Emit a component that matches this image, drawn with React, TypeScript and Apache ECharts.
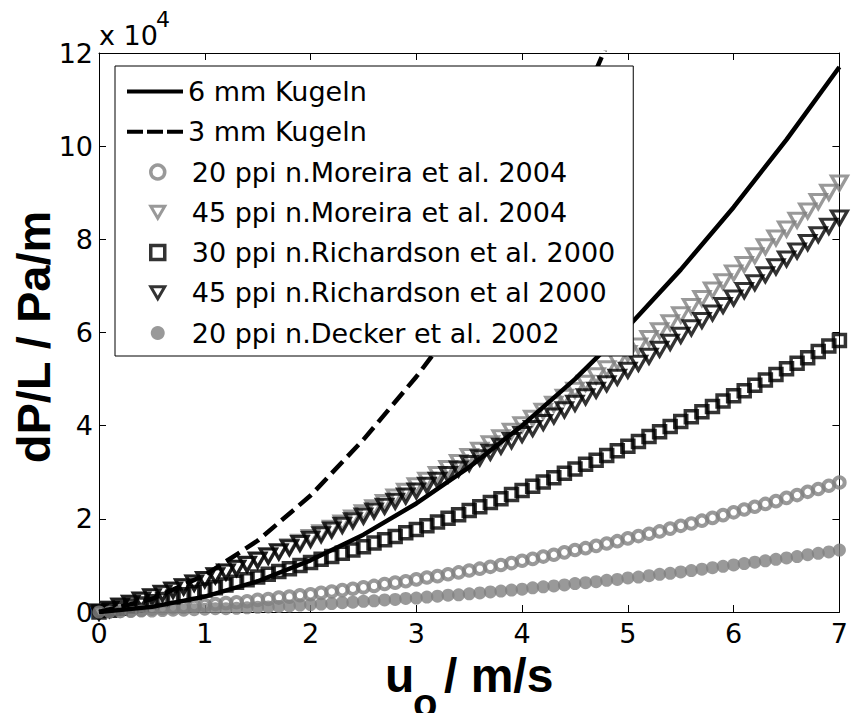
import React, { useEffect, useRef } from 'react';
import * as echarts from 'echarts';

// Values in units of 10^4 Pa/m
const u = [
  0, 0.1, 0.2, 0.3, 0.4, 0.5, 0.6, 0.7, 0.8, 0.9,
  1.0, 1.1, 1.2, 1.3, 1.4, 1.5, 1.6, 1.7, 1.8, 1.9,
  2.0, 2.1, 2.2, 2.3, 2.4, 2.5, 2.6, 2.7, 2.8, 2.9,
  3.0, 3.1, 3.2, 3.3, 3.4, 3.5, 3.6, 3.7, 3.8, 3.9,
  4.0, 4.1, 4.2, 4.3, 4.4, 4.5, 4.6, 4.7, 4.8, 4.9,
  5.0, 5.1, 5.2, 5.3, 5.4, 5.5, 5.6, 5.7, 5.8, 5.9,
  6.0, 6.1, 6.2, 6.3, 6.4, 6.5, 6.6, 6.7, 6.8, 6.9,
  7.0,
];

const uCurve6 = [0, 0.5, 1.0, 1.5, 2.0, 2.5, 3.0, 3.5, 4.0, 4.5, 5.0, 5.5, 6.0, 6.5, 7.0];
const kugeln6mm = [0, 0.11, 0.33, 0.66, 1.11, 1.66, 2.33, 3.11, 4.0, 5.0, 6.12, 7.35, 8.69, 10.14, 11.7];

const uCurve3 = [0, 0.5, 1.0, 1.5, 2.0, 2.5, 3.0, 3.5, 4.0, 4.5, 5.0];
const kugeln3mm = [0, 0.28, 0.79, 1.53, 2.5, 3.7, 5.05, 6.55, 8.35, 10.6, 13.2];

const moreira20 = [
  0, 0.01, 0.02, 0.04, 0.05, 0.07, 0.08, 0.1, 0.11, 0.13,
  0.15, 0.17, 0.19, 0.21, 0.23, 0.26, 0.28, 0.31, 0.33, 0.36,
  0.38, 0.41, 0.44, 0.47, 0.5, 0.53, 0.56, 0.6, 0.63, 0.66,
  0.7, 0.74, 0.77, 0.81, 0.85, 0.89, 0.93, 0.97, 1.01, 1.05,
  1.1, 1.14, 1.19, 1.23, 1.28, 1.33, 1.37, 1.42, 1.47, 1.52,
  1.58, 1.63, 1.68, 1.73, 1.79, 1.85, 1.9, 1.96, 2.02, 2.08,
  2.14, 2.2, 2.26, 2.32, 2.38, 2.45, 2.51, 2.58, 2.64, 2.71,
  2.78,
];

const moreira45 = [
  0, 0.06, 0.12, 0.19, 0.25, 0.32, 0.39, 0.46, 0.54, 0.62,
  0.69, 0.78, 0.86, 0.94, 1.03, 1.12, 1.21, 1.3, 1.4, 1.5,
  1.6, 1.7, 1.8, 1.91, 2.02, 2.13, 2.24, 2.35, 2.47, 2.59,
  2.71, 2.83, 2.95, 3.08, 3.21, 3.34, 3.47, 3.61, 3.74, 3.88,
  4.02, 4.16, 4.31, 4.46, 4.61, 4.76, 4.91, 5.07, 5.22, 5.38,
  5.55, 5.71, 5.87, 6.04, 6.21, 6.38, 6.56, 6.73, 6.91, 7.09,
  7.28, 7.46, 7.65, 7.84, 8.03, 8.22, 8.41, 8.61, 8.81, 9.01,
  9.21,
];

const richardson30 = [
  0, 0.04, 0.08, 0.13, 0.17, 0.22, 0.27, 0.32, 0.37, 0.42,
  0.47, 0.52, 0.58, 0.64, 0.69, 0.75, 0.81, 0.87, 0.93, 1.0,
  1.06, 1.13, 1.19, 1.26, 1.33, 1.4, 1.48, 1.55, 1.62, 1.7,
  1.77, 1.85, 1.93, 2.01, 2.09, 2.18, 2.26, 2.35, 2.43, 2.52,
  2.61, 2.7, 2.79, 2.88, 2.98, 3.07, 3.17, 3.26, 3.36, 3.46,
  3.56, 3.66, 3.77, 3.87, 3.98, 4.09, 4.19, 4.3, 4.41, 4.53,
  4.64, 4.75, 4.87, 4.98, 5.1, 5.22, 5.34, 5.46, 5.59, 5.71,
  5.83,
];

const richardson45 = [
  0, 0.06, 0.13, 0.19, 0.26, 0.33, 0.4, 0.47, 0.54, 0.62,
  0.7, 0.78, 0.86, 0.94, 1.02, 1.11, 1.2, 1.29, 1.38, 1.47,
  1.56, 1.66, 1.76, 1.86, 1.96, 2.06, 2.17, 2.27, 2.38, 2.49,
  2.6, 2.72, 2.83, 2.95, 3.07, 3.19, 3.31, 3.43, 3.56, 3.68,
  3.81, 3.94, 4.07, 4.21, 4.34, 4.48, 4.62, 4.76, 4.9, 5.04,
  5.19, 5.34, 5.49, 5.64, 5.79, 5.94, 6.1, 6.26, 6.42, 6.58,
  6.74, 6.9, 7.07, 7.24, 7.41, 7.58, 7.75, 7.93, 8.1, 8.28,
  8.46,
];

const decker20 = [
  0, 0.0, 0.01, 0.01, 0.02, 0.02, 0.03, 0.04, 0.04, 0.05,
  0.06, 0.07, 0.07, 0.08, 0.09, 0.1, 0.11, 0.12, 0.13, 0.15,
  0.16, 0.17, 0.18, 0.2, 0.21, 0.23, 0.24, 0.26, 0.27, 0.29,
  0.3, 0.32, 0.34, 0.36, 0.37, 0.39, 0.41, 0.43, 0.45, 0.47,
  0.49, 0.52, 0.54, 0.56, 0.58, 0.61, 0.63, 0.65, 0.68, 0.7,
  0.73, 0.75, 0.78, 0.81, 0.83, 0.86, 0.89, 0.92, 0.95, 0.98,
  1.01, 1.04, 1.07, 1.1, 1.13, 1.16, 1.19, 1.23, 1.26, 1.29,
  1.33,
];

const seriesNames = [
  '6 mm Kugeln',
  '3 mm Kugeln',
  '20 ppi n.Moreira et al. 2004',
  '45 ppi n.Moreira et al. 2004',
  '30 ppi n.Richardson et al. 2000',
  '45 ppi n.Richardson et al 2000',
  '20 ppi n.Decker et al. 2002',
];

const GRAY = '#808080';
const TICK_FONT = 'DejaVu Sans';
const DOWN_TRI = 'path://M0,0L14,0L7,12Z';
const DASH_ICON = 'path://M0,0h16v4h-16zM20,0h16v4h-16zM40,0h16v4h-16z';

const pair = (xs: number[], ys: number[]) => xs.map((x, i) => [x, ys[i]]);

const axisCommon = (pos: string, showLabel: boolean, isX: boolean) => ({
  type: 'value',
  position: pos,
  min: 0,
  max: isX ? 7 : 12,
  interval: isX ? 1 : 2,
  axisLine: { show: true, onZero: false, lineStyle: { color: '#000', width: 1 } },
  axisTick: { show: true, inside: true, length: 7, lineStyle: { color: '#000', width: 1 } },
  axisLabel: showLabel
    ? {
        show: true,
        color: '#000',
        fontFamily: TICK_FONT,
        fontSize: 27,
        margin: isX ? 8 : 6,
        ...(isX ? {} : { padding: [8, 0, 0, 0] }),
      }
    : { show: false },
  splitLine: { show: false },
});

export default function App() {
  const ref = useRef<HTMLDivElement>(null);
  useEffect(() => {
    if (!ref.current) return;
    const chart = echarts.init(ref.current, undefined, { renderer: 'svg' });
    const open = (c: string, w: number) => ({ color: 'rgba(255,255,255,0)', borderColor: c, borderWidth: w });
    const legendText = { color: '#000', fontFamily: TICK_FONT, fontSize: 27, lineHeight: 30 };
    const option: any = {
      animation: false,
      backgroundColor: '#fff',
      grid: { left: 99, right: 3, top: 53, bottom: 101, containLabel: false },
      xAxis: [axisCommon('bottom', true, true), axisCommon('top', false, true)],
      yAxis: [axisCommon('left', true, false), axisCommon('right', false, false)],
      legend: [
        {
          // marker entries; its box also frames the whole legend
          orient: 'vertical',
          left: 115,
          top: 66,
          padding: [91, 18, 8, 34],
          itemGap: 10.25,
          itemWidth: 14,
          itemHeight: 14,
          selectedMode: false,
          backgroundColor: '#fff',
          borderColor: '#000',
          borderWidth: 1,
          borderRadius: 0,
          z: 4,
          textStyle: { ...legendText, padding: [0, 0, 0, 22] },
          data: [
            { name: seriesNames[2], icon: 'circle', itemStyle: { borderWidth: 3.5 } },
            { name: seriesNames[3], icon: DOWN_TRI, itemStyle: { borderWidth: 3 } },
            { name: seriesNames[4], icon: 'rect', itemStyle: { borderWidth: 3.5 } },
            { name: seriesNames[5], icon: DOWN_TRI, itemStyle: { borderWidth: 3 } },
            { name: seriesNames[6], icon: 'circle', itemStyle: { borderWidth: 0 } },
          ],
        },
        {
          orient: 'vertical',
          left: 127,
          top: 76.5,
          padding: 0,
          itemGap: 10.25,
          itemWidth: 56,
          itemHeight: 4,
          selectedMode: false,
          z: 5,
          textStyle: legendText,
          data: [
            { name: seriesNames[0], icon: 'rect' },
            { name: seriesNames[1], icon: DASH_ICON },
          ],
        },
      ],
      graphic: [
        {
          type: 'text', x: 99, y: 35, z: 10,
          style: { text: 'x 10', font: '27px "DejaVu Sans"', fill: '#000', align: 'left', verticalAlign: 'middle', textAlign: 'left', textVerticalAlign: 'middle' },
        },
        {
          type: 'text', x: 156, y: 19, z: 10,
          style: { text: '4', font: '22px "DejaVu Sans"', fill: '#000', align: 'left', verticalAlign: 'middle', textAlign: 'left', textVerticalAlign: 'middle' },
        },
        {
          type: 'text', x: 33, y: 337, rotation: Math.PI / 2, z: 10,
          style: { text: 'dP/L / Pa/m', font: 'bold 47px "Liberation Sans"', fill: '#000', align: 'center', verticalAlign: 'middle', textAlign: 'center', textVerticalAlign: 'middle' },
        },
        {
          type: 'text', x: 385, y: 675, z: 10,
          style: { text: 'u', font: 'bold 48px "Liberation Sans"', fill: '#000', align: 'left', verticalAlign: 'middle', textAlign: 'left', textVerticalAlign: 'middle' },
        },
        {
          type: 'text', x: 413, y: 703, z: 10,
          style: { text: 'o', font: 'bold 40px "Liberation Sans"', fill: '#000', align: 'left', verticalAlign: 'middle', textAlign: 'left', textVerticalAlign: 'middle' },
        },
        {
          type: 'text', x: 444, y: 675, z: 10,
          style: { text: '/ m/s', font: 'bold 48px "Liberation Sans"', fill: '#000', align: 'left', verticalAlign: 'middle', textAlign: 'left', textVerticalAlign: 'middle' },
        },
      ],
      series: [
        {
          name: seriesNames[0], type: 'line', data: pair(uCurve6, kugeln6mm), showSymbol: false, symbol: 'none',
          lineStyle: { color: '#000', width: 4.5 }, itemStyle: { color: '#000' }, clip: true,
        },
        {
          name: seriesNames[1], type: 'line', data: pair(uCurve3, kugeln3mm), showSymbol: false, symbol: 'none',
          lineStyle: { color: '#000', width: 4.5, type: [16, 7] }, itemStyle: { color: '#000' }, clip: true,
        },
        {
          name: seriesNames[2], type: 'scatter', data: pair(u, moreira20), symbol: 'circle', symbolSize: 10.5,
          itemStyle: open(GRAY, 4), clip: false,
        },
        {
          name: seriesNames[3], type: 'scatter', data: pair(u, moreira45), symbol: 'triangle', symbolRotate: 180,
          symbolSize: [16, 14], itemStyle: open(GRAY, 3.2), clip: false,
        },
        {
          name: seriesNames[4], type: 'scatter', data: pair(u, richardson30), symbol: 'rect', symbolSize: 12,
          itemStyle: open('#000', 3.5), clip: false,
        },
        {
          name: seriesNames[5], type: 'scatter', data: pair(u, richardson45), symbol: 'triangle', symbolRotate: 180,
          symbolSize: [16, 14], itemStyle: open('#000', 3.2), clip: false,
        },
        {
          name: seriesNames[6], type: 'scatter', data: pair(u, decker20), symbol: 'circle', symbolSize: 13,
          itemStyle: { color: GRAY }, clip: false,
        },
      ],
    };
    chart.setOption(option);
    return () => chart.dispose();
  }, []);
  return (
    <div
      ref={ref}
      style={{ position: 'fixed', left: 0, top: 0, width: 851, height: 713, background: '#fff' }}
    />
  );
}
